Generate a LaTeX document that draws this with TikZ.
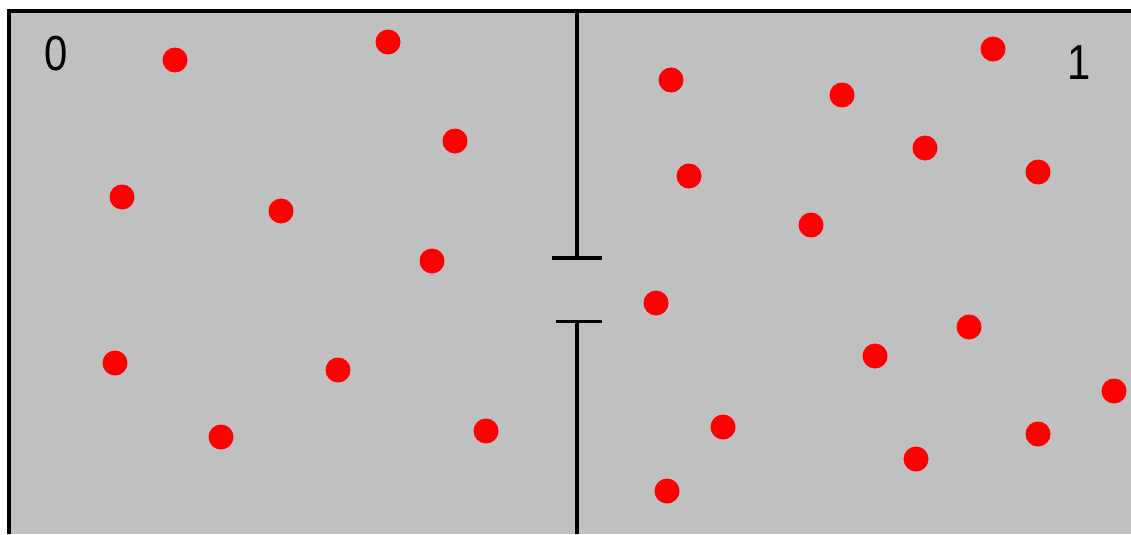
\documentclass[tikz,border=0pt]{standalone}
\usepackage{fontspec}
\setmainfont{Liberation Sans}
\definecolor{boxgray}{HTML}{C0C0C0}
\definecolor{molred}{HTML}{FF0000}

\begin{document}
\begin{tikzpicture}[x=0.02cm,y=-0.02cm,font=\fontsize{28}{30}\selectfont]
  \useasboundingbox (0,0) rectangle (1131,534);
  \fill[white] (0,0) rectangle (1131,534);
  % container
  \fill[boxgray] (9,11) rectangle (1131,534);
  \draw[line width=0.08cm] (9,534) -- (9,11) -- (1131,11);
  % partition with a gap
  \draw[line width=0.08cm] (577,11) -- (577,258);
  \draw[line width=0.08cm] (552,258) -- (602,258);
  \draw[line width=0.065cm] (556,321.5) -- (602,321.5);
  \draw[line width=0.08cm] (577,321.5) -- (577,534);
  % chamber labels
  \node[xscale=0.85] (lab0) at (56,54) {0};
  \node[xscale=0.85] (lab1) at (1079,63) {1};
  % molecules, left chamber
  \foreach \x/\y in {175/60,388/42,455/141,122/197,281/211,432/261,
                     115/363,338/370,221/437,486/431}{
     \fill[molred] (\x,\y) circle (12.5);}
  % molecules, right chamber
  \foreach \x/\y in {993/49,671/80,842/95,925/148,689/176,1038/172,
                     811/225,656/303,969/327,875/356,1114/391,723/427,
                     1038/434,916/459,667/491}{
     \fill[molred] (\x,\y) circle (12.5);}
\end{tikzpicture}
\end{document}
